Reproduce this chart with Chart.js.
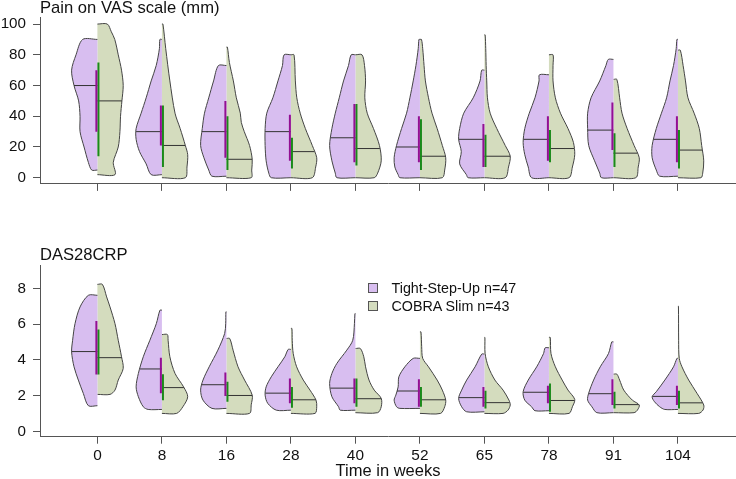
<!DOCTYPE html>
<html>
<head>
<meta charset="utf-8">
<script src="https://cdn.jsdelivr.net/npm/chart.js@4.4.1/dist/chart.umd.min.js"></script>
<style>
html, body { margin: 0; padding: 0; background: #fff; }
body { width: 736px; height: 479px; position: relative; overflow: hidden; font-family: 'Liberation Sans', Arial, sans-serif; }
#topChart { position: absolute; left: 0; top: 0; }
#bottomChart { position: absolute; left: 0; top: 240px; }
.lg-box { position: absolute; left: 368px; width: 10px; height: 10px; box-sizing: border-box; border: 1px solid #555; }
.lg-text { position: absolute; left: 391.5px; font-size: 14.3px; line-height: 18px; color: #111; white-space: nowrap; }
</style>
</head>
<body>
<canvas id="topChart" width="736" height="200"></canvas>
<canvas id="bottomChart" width="736" height="239"></canvas>
<div id="legend"></div>
<script>
const weeks = ['0', '8', '16', '28', '40', '52', '65', '78', '91', '104'];
const groupNames = ['Tight-Step-Up n=47', 'COBRA Slim n=43'];

// Pain on VAS scale (mm)
const vasTightMedian = [60, 30, 30, 30, 26, 20, 25, 25, 31, 25];
const vasTightQ1 = [30, 21, 13, 11, 10, 10, 7, 11, 18, 10];
const vasTightQ3 = [70, 47, 50, 41, 48, 40, 35, 40, 49, 40];
// density profiles: [value, relative density], from min to max
const vasTightDensity = [
    [[5, 5.7], [10, 9], [20, 13.3], [30, 17.3], [40, 17.3], [50, 18.7], [60, 23.3], [70, 25.7], [80, 21.3], [90, 14.7]],
    [[2, 10.7], [9, 15.7], [17, 22.3], [25, 25.7], [32, 25.7], [42, 20.7], [52, 15.7], [63, 10.7], [73, 5.7], [84, 2.5], [90, 2]],
    [[1, 15], [5, 18.3], [13, 23.3], [21, 26.7], [32, 25], [42, 22.7], [52, 18.3], [63, 13.3], [73, 8.3]],
    [[0, 19.3], [3, 21.7], [11, 24.3], [21, 25.3], [32, 25.3], [42, 23.7], [52, 17.7], [63, 12.7], [73, 8.3], [80, 6.7]],
    [[0, 18.7], [3, 20.3], [11, 23.7], [21, 26], [32, 23.7], [42, 20.3], [52, 16.3], [63, 12], [73, 7], [80, 4.3]],
    [[0, 20], [2, 21.7], [7, 25], [13, 25.7], [21, 23.3], [32, 18.3], [42, 13.3], [52, 10], [63, 6.7], [73, 4], [84, 1.7], [90, 1]],
    [[0, 16], [2, 17.7], [9, 24.3], [17, 22.7], [25, 25.3], [32, 24.3], [42, 20.3], [52, 11], [63, 4.3], [70, 2.7]],
    [[0, 17], [7, 20.3], [15, 23.7], [23, 25.3], [32, 23.7], [42, 19.3], [52, 13.7], [63, 9.7], [67, 9.3]],
    [[0, 11.7], [3, 13.3], [11, 18.3], [21, 24], [32, 25], [42, 25], [52, 21.7], [63, 13.3], [73, 7.3], [77, 5]],
    [[1, 17.7], [5, 21], [13, 25], [21, 25], [32, 21], [42, 16], [52, 11], [63, 7.7], [73, 4.3], [84, 1.7], [90, 1]]
];
const vasCobraMedian = [50, 21, 12, 17, 19, 14, 14, 19, 16, 18];
const vasCobraQ1 = [14, 7, 5, 6, 8, 5, 7, 10, 7, 6];
const vasCobraQ3 = [75, 47, 40, 26, 48, 38, 28, 31, 29, 31];
const vasCobraDensity = [
    [[2, 17.7], [10, 16], [20, 21], [30, 22.7], [40, 23.3], [50, 24.7], [60, 26], [70, 24.3], [80, 21], [90, 17.5], [95, 14], [100, 10]],
    [[0, 22.7], [7, 24.3], [15, 25], [21, 22.7], [32, 17.7], [42, 12.7], [63, 7.7], [84, 3.7], [100, 1]],
    [[0, 25], [5, 25.5], [12, 26], [21, 23.3], [30, 18], [36, 15], [42, 14], [52, 10], [63, 7], [75, 3], [85, 1]],
    [[0, 20.7], [7, 24], [13, 25], [21, 20.7], [32, 14], [42, 9], [52, 5.7], [63, 4.3], [80, 3]],
    [[0, 18], [3, 21.3], [11, 24.7], [21, 23], [32, 17.3], [42, 11.3], [52, 9], [63, 9.7], [73, 8.7], [80, 6.3]],
    [[0, 21.7], [5, 24], [13, 25], [21, 21.7], [32, 16.7], [42, 11.7], [52, 8.3], [63, 5.3], [73, 4], [84, 2.7], [90, 1.5]],
    [[0, 20.7], [7, 24], [14, 25.7], [21, 20.7], [32, 12.3], [42, 5.7], [52, 3], [63, 2.3], [73, 1.7], [84, 1.3], [93, 0.7]],
    [[0, 19.7], [7, 23], [15, 25.3], [23, 24], [32, 18.7], [42, 11.3], [52, 6.3], [63, 4], [73, 4], [80, 4]],
    [[0, 21.7], [7, 24], [13, 25], [21, 20], [32, 13.3], [42, 8.3], [52, 6], [64, 3.3]],
    [[0, 22.3], [3, 24], [11, 25], [21, 23], [32, 20.7], [42, 15.7], [52, 9.7], [63, 7.3], [73, 5], [83, 2.3]]
];

// DAS28CRP
const dasTightMedian = [4.47, 3.5, 2.62, 2.15, 2.43, 2.27, 1.9, 2.2, 2.12, 1.97];
const dasTightQ1 = [3.19, 2.14, 1.99, 1.58, 1.58, 1.39, 1.39, 1.58, 1.49, 1.49];
const dasTightQ3 = [6.18, 4.12, 3.3, 2.97, 2.97, 2.92, 2.5, 2.56, 2.92, 2.56];
const dasTightDensity = [
    [[1.45, 9], [2.13, 14], [2.88, 19], [3.62, 23.3], [4.46, 25.7], [5.1, 24.7], [6.03, 22.3], [6.96, 17.3], [7.61, 9]],
    [[1.24, 14], [1.39, 19], [1.95, 24], [2.5, 26.3], [3.25, 24], [4.18, 19], [5.1, 12.3], [6.03, 5.7], [6.78, 2]],
    [[1.3, 14], [1.76, 22.7], [2.32, 25], [2.88, 22.7], [3.62, 16.7], [4.55, 8.3], [5.48, 1.7], [6.03, 0.7], [6.69, 0.5]],
    [[1.2, 14.3], [1.58, 22.7], [2.04, 25.3], [2.5, 24.3], [3.06, 19.3], [3.62, 12.7], [4.18, 6], [4.59, 2.7]],
    [[1.2, 15.3], [1.39, 17], [1.95, 23.7], [2.69, 26], [3.25, 23.7], [3.81, 18.7], [4.55, 8.7], [5.1, 2.7], [6.03, 1], [6.59, 0.5]],
    [[1.3, 20], [1.39, 23.3], [1.76, 25.7], [2.04, 24], [2.5, 21.7], [3.06, 21], [3.62, 15], [4.09, 6.7]],
    [[1.11, 17.7], [1.39, 22.7], [1.86, 25.7], [2.32, 22.7], [2.88, 17.7], [3.62, 9.3], [4.33, 2.7]],
    [[1.17, 13.7], [1.39, 17], [1.76, 23.7], [2.23, 25.3], [2.88, 20.3], [3.62, 12], [4.36, 5.3], [4.68, 3.7]],
    [[1.06, 16.7], [1.39, 21.7], [1.76, 26], [2.14, 25], [2.88, 20], [3.62, 13.3], [4.36, 5], [5.01, 1.7]],
    [[1.24, 12.7], [1.39, 17.7], [1.67, 22.7], [1.95, 25], [2.23, 21], [2.88, 12.7], [3.62, 4.3], [4.09, 1]]
];
const dasCobraMedian = [4.13, 2.46, 2.02, 1.78, 1.84, 1.78, 1.62, 1.74, 1.51, 1.61];
const dasCobraQ1 = [3.19, 1.76, 1.67, 1.34, 1.39, 1.39, 1.3, 1.11, 1.3, 1.3];
const dasCobraQ3 = [5.7, 3.21, 2.79, 2.5, 2.97, 2.5, 2.28, 2.69, 2.23, 2.28];
const dasCobraDensity = [
    [[2.08, 12.7], [2.32, 17.7], [2.88, 21], [3.53, 26], [4.18, 24.3], [5.1, 21], [6.03, 17.7], [6.96, 12.7], [7.52, 9.3], [8.22, 5]],
    [[1.02, 14.3], [1.39, 20.3], [1.95, 25], [2.5, 21], [3.25, 12.7], [4.18, 7.7], [5.1, 6], [5.42, 5.3]],
    [[1.02, 23.3], [1.5, 25], [2.04, 26], [2.88, 18.3], [3.62, 11.7], [4.55, 6.7], [5.2, 3.3]],
    [[1.02, 24], [1.39, 25.7], [1.76, 25], [2.32, 19], [2.88, 12.3], [3.62, 5.7], [4.36, 2.3], [5.1, 1.3], [5.76, 1]],
    [[1.06, 21.3], [1.39, 24.7], [1.86, 24.7], [2.32, 18], [2.88, 13], [3.62, 9.7], [4.18, 8], [4.64, 4.7]],
    [[1.02, 20], [1.39, 24], [1.76, 25], [2.32, 21.7], [2.88, 16.7], [3.62, 8.3], [4.09, 2.7], [4.74, 1.7], [5.57, 1]],
    [[1.02, 19], [1.2, 24], [1.49, 26.3], [1.76, 25], [2.32, 19], [2.88, 10.7], [3.62, 4], [4.36, 0.7], [5.26, 0.5]],
    [[1.02, 19.7], [1.39, 23], [1.8, 25.3], [2.32, 18.7], [2.88, 13], [3.62, 6.3], [4.36, 2], [5.26, 1.3]],
    [[1.06, 20], [1.21, 23.3], [1.49, 25], [1.76, 18.3], [2.32, 10], [2.88, 6], [3.21, 3.3]],
    [[1.02, 20.7], [1.21, 25], [1.49, 25.7], [2.14, 19], [2.88, 10.7], [3.62, 4], [4.09, 1.3], [5.1, 0.7], [7.0, 0.5]]
];

const vasTicks = [0, 20, 40, 60, 80, 100];
const dasTicks = [0, 2, 4, 6, 8];

const FONT = "'Liberation Sans', Arial, sans-serif";
const HALF = 0.4;        // max half width of a violin, in category units
const IQR_SHIFT = 0.016;
const purpleFill = '#D8BEF0';
const greenFill = '#D4DCBE';
const purpleLine = '#930F93';
const greenLine = '#1A8A1A';
const outline = '#444';
const medianColor = '#333';
const axisColor = '#555';

function widthAt(prof, v) {
    for (let i = 0; i < prof.length - 1; i++) {
        const [y0, w0] = prof[i];
        const [y1, w1] = prof[i + 1];
        if (v >= y0 && v <= y1) return w0 + (w1 - w0) * (v - y0) / (y1 - y0);
    }
    return v < prof[0][0] ? prof[0][1] : prof[prof.length - 1][1];
}

function violinSets(groups) {
    const sets = [];
    groups.forEach(g => {
        g.density.forEach((prof, i) => {
            const pos = i + 1;
            const maxW = Math.max(...prof.map(p => p[1]));
            const pts = [{ x: pos, y: prof[0][0] }];
            prof.forEach(([y, w]) => pts.push({ x: pos + g.side * HALF * w / maxW, y }));
            pts.push({ x: pos, y: prof[prof.length - 1][0] });
            sets.push({
                data: pts, order: 3, fill: 'shape', tension: 0.3,
                backgroundColor: g.fill, borderColor: outline, borderWidth: 1, pointRadius: 0
            });
            const wm = widthAt(prof, g.median[i]) / maxW;
            sets.push({
                data: [{ x: pos + g.side * HALF * wm, y: g.median[i] }, { x: pos, y: g.median[i] }],
                order: 2, fill: false, borderColor: medianColor, borderWidth: 1, pointRadius: 0
            });
            const xi = pos + g.side * IQR_SHIFT;
            sets.push({
                data: [{ x: xi, y: g.q1[i] }, { x: xi, y: g.q3[i] }],
                order: 1, fill: false, borderColor: g.line, borderWidth: 2, pointRadius: 0
            });
        });
    });
    return sets;
}

function makeChart(canvasId, cfg) {
    return new Chart(document.getElementById(canvasId), {
        type: 'line',
        data: { datasets: violinSets(cfg.groups) },
        options: {
            responsive: false,
            animation: false,
            devicePixelRatio: 1,
            layout: { padding: 0 },
            plugins: {
                legend: { display: false },
                tooltip: { enabled: false },
                title: {
                    display: true, text: cfg.title, align: 'start', fullSize: false, color: '#111',
                    font: { family: FONT, size: 16.6, weight: 'normal', lineHeight: 0.82 },
                    padding: cfg.titlePadding
                }
            },
            scales: {
                x: {
                    type: 'linear', min: 0.11, max: 10.9,
                    afterBuildTicks: s => { s.ticks = weeks.map((w, i) => ({ value: i + 1 })); },
                    ticks: {
                        display: cfg.showX, autoSkip: false, maxRotation: 0, padding: 3, color: '#111',
                        font: { family: FONT, size: 15.4 },
                        callback: v => weeks[Math.round(v) - 1]
                    },
                    grid: { drawOnChartArea: false, tickLength: 7, color: axisColor },
                    border: { color: axisColor },
                    title: {
                        display: cfg.showX, text: 'Time in weeks', color: '#111', padding: 0,
                        font: { family: FONT, size: 16.5, lineHeight: 0.88 }
                    },
                    afterFit: s => { s.height = cfg.xHeight; }
                },
                y: {
                    min: cfg.yMin, max: cfg.yMax,
                    afterBuildTicks: s => { s.ticks = cfg.yTicks.map(v => ({ value: v })); },
                    ticks: { padding: 7, color: '#111', font: { family: FONT, size: 15.2 } },
                    grid: { drawOnChartArea: false, tickLength: 7, color: axisColor },
                    border: { color: axisColor },
                    afterFit: s => { s.width = 40; }
                }
            }
        }
    });
}

makeChart('topChart', {
    title: 'Pain on VAS scale (mm)',
    titlePadding: { top: 1.8, bottom: 2.2 },
    yMin: -4, yMax: 104.2, yTicks: vasTicks,
    showX: false, xHeight: 9.6,
    groups: [
        { side: -1, fill: purpleFill, line: purpleLine, median: vasTightMedian, q1: vasTightQ1, q3: vasTightQ3, density: vasTightDensity },
        { side: 1, fill: greenFill, line: greenLine, median: vasCobraMedian, q1: vasCobraQ1, q3: vasCobraQ3, density: vasCobraDensity }
    ]
});

makeChart('bottomChart', {
    title: 'DAS28CRP',
    titlePadding: { top: 8.2, bottom: 3.2 },
    yMin: -0.28, yMax: 9.3, yTicks: dasTicks,
    showX: true, xHeight: 42.3,
    groups: [
        { side: -1, fill: purpleFill, line: purpleLine, median: dasTightMedian, q1: dasTightQ1, q3: dasTightQ3, density: dasTightDensity },
        { side: 1, fill: greenFill, line: greenLine, median: dasCobraMedian, q1: dasCobraQ1, q3: dasCobraQ3, density: dasCobraDensity }
    ]
});

// --- Legend ---
const legend = document.getElementById('legend');
[purpleFill, greenFill].forEach((col, i) => {
    const cy = 287.7 + i * 17.8;
    const box = document.createElement('div');
    box.className = 'lg-box';
    box.style.top = (cy - 5) + 'px';
    box.style.background = col;
    legend.appendChild(box);
    const txt = document.createElement('div');
    txt.className = 'lg-text';
    txt.style.top = (cy - 9) + 'px';
    txt.textContent = groupNames[i];
    legend.appendChild(txt);
});
</script>
</body>
</html>
